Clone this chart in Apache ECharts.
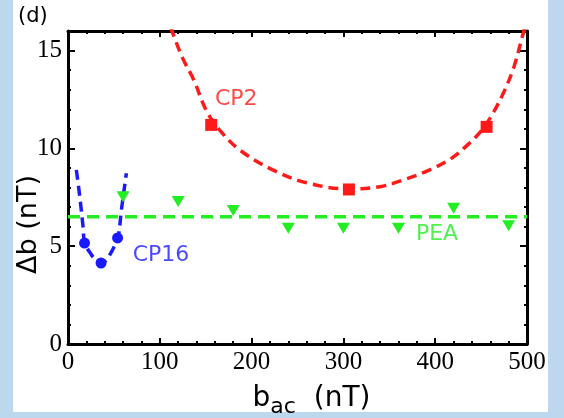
<!DOCTYPE html>
<html>
<head>
<meta charset="utf-8">
<script src="https://cdn.jsdelivr.net/npm/echarts@6/dist/echarts.min.js"></script>
<style>
  html, body { margin: 0; padding: 0; background: #bdd7ee; }
  #panel { position: absolute; left: 13px; top: 0; width: 535px; height: 412px; background: #ffffff; }
  #chart { position: absolute; left: 0; top: 0; width: 564px; height: 418px; }
</style>
</head>
<body>
<div id="panel"></div>
<div id="chart"></div>
<script>
// Measured points
const cp2X = [156, 306, 456];
const cp2Y = [11.2, 7.9, 11.1];
const cp16X = [18, 36, 54];
const cp16Y = [5.16, 4.14, 5.42];
const peaX = [60, 120, 180, 240, 300, 360, 420, 480];
const peaY = [7.53, 7.28, 6.82, 5.92, 5.92, 5.92, 6.94, 6.04];

// Fitted curves (dashed)
const cp2FitX = [112, 114, 125, 137, 151, 165, 187, 223, 260, 306, 340, 366, 394, 418, 438, 452, 463, 475, 486, 496, 499];
const cp2FitY = [16.2, 15.9, 14.6, 13.5, 11.9, 10.95, 9.92, 8.9, 8.24, 7.92, 8.04, 8.4, 8.9, 9.5, 10.3, 11.0, 11.8, 12.9, 14.2, 15.9, 16.3];
const cp16FitX = [9.1, 12.8, 16.4, 18.2, 25.5, 30, 36.4, 42, 45.5, 50, 54.5, 58.2, 63.6];
const cp16FitY = [8.9, 7.54, 6.0, 5.16, 4.56, 4.3, 4.14, 4.3, 4.56, 4.95, 5.42, 6.86, 8.73];
const peaLevelX = [0, 500];
const peaLevelY = [6.5, 6.5];

// Axis ranges and ticks
const xMin = 0, xMax = 500, xMajor = 100, xMinorSplit = 5;
const yMin = 0, yMax = 16, yMajor = 5, yMinor = 1;

// Curve labels: [text, x, y, colour]
const curveLabels = [
  ['CP2', 160, 12.5, '#ff1a1a'],
  ['CP16', 70.5, 4.56, '#1a1aff'],
  ['PEA', 379, 5.6, '#22ee22']
];

const zip = (xs, ys) => xs.map((x, i) => [x, ys[i]]);

const RED = '#ff1a1a', BLUE = '#1a1aff', GREEN = '#22ee22';
const serif = '"Liberation Serif", "Times New Roman", serif';
const sans = '"DejaVu Sans", Verdana, sans-serif';

function xAxisDef(pos, showLabels) {
  return {
    type: 'value', position: pos, min: xMin, max: xMax, interval: xMajor,
    axisLine: { show: true, onZero: false, lineStyle: { color: '#000', width: 3 } },
    axisTick: { show: true, inside: true, length: 6, lineStyle: { color: '#000', width: 2 } },
    minorTick: { show: true, splitNumber: xMinorSplit, length: 3, lineStyle: { color: '#000', width: 2 } },
    axisLabel: { show: showLabels, fontFamily: serif, fontSize: 25, color: '#000', margin: 6 },
    splitLine: { show: false },
    name: showLabels ? '{b|b}{s|ac}{b|  (nT)}' : '',
    nameLocation: 'middle', nameGap: 38,
    nameTextStyle: {
      padding: [0, 0, 0, 28],
      rich: {
        b: { fontFamily: sans, fontSize: 28, color: '#000', lineHeight: 30 },
        s: { fontFamily: sans, fontSize: 22, color: '#000', lineHeight: 22, padding: [16, 0, 0, 0] }
      }
    }
  };
}

function yAxisDef(pos, interval, tickLen, showLine, showLabels) {
  return {
    type: 'value', position: pos, min: yMin, max: yMax, interval: interval,
    axisLine: { show: showLine, onZero: false, lineStyle: { color: '#000', width: 3 } },
    axisTick: { show: true, inside: true, length: tickLen, lineStyle: { color: '#000', width: 2 } },
    axisLabel: {
      show: showLabels, fontFamily: serif, fontSize: 25, color: '#000', margin: 6,
      formatter: v => (v % yMajor === 0 ? String(v) : '')
    },
    splitLine: { show: false },
    name: showLabels ? 'Δb (nT)' : '',
    nameLocation: 'middle', nameGap: 26, nameRotate: 90, nameMoveOverlap: false,
    nameTextStyle: { fontFamily: sans, fontSize: 27, color: '#000', padding: [0, 74, 0, 0] }
  };
}

const chart = echarts.init(document.getElementById('chart'), null, { renderer: 'canvas' });

chart.setOption({
  animation: false,
  backgroundColor: 'transparent',
  title: {
    text: '(d)', left: 13, top: 1,
    textStyle: { fontFamily: sans, fontSize: 21, fontWeight: 'normal', color: '#000' }
  },
  grid: { left: 68, right: 37, top: 31, bottom: 74, containLabel: false, outerBoundsMode: 'none' },
  xAxis: [xAxisDef('bottom', true), xAxisDef('top', false)],
  yAxis: [
    yAxisDef('left', yMinor, 3, true, true),
    yAxisDef('left', yMajor, 7, false, false),
    yAxisDef('right', yMinor, 3, true, false),
    yAxisDef('right', yMajor, 7, false, false)
  ],
  series: [
    {
      name: 'CP2 fit', type: 'line', data: zip(cp2FitX, cp2FitY), smooth: 0.35,
      showSymbol: false, clip: true,
      lineStyle: { color: RED, width: 3.5, type: [10, 6] }, z: 3
    },
    {
      name: 'CP2', type: 'scatter', data: zip(cp2X, cp2Y), symbol: 'rect', symbolSize: 12,
      itemStyle: { color: RED, opacity: 1 }, z: 4
    },
    {
      name: 'CP16 fit', type: 'line', data: zip(cp16FitX, cp16FitY), smooth: 0.35,
      showSymbol: false, clip: true,
      lineStyle: { color: BLUE, width: 3.5, type: [10, 6] }, z: 3
    },
    {
      name: 'CP16', type: 'scatter', data: zip(cp16X, cp16Y), symbol: 'circle', symbolSize: 11,
      itemStyle: { color: BLUE, opacity: 1 }, z: 4
    },
    {
      name: 'PEA level', type: 'line', data: zip(peaLevelX, peaLevelY),
      showSymbol: false, clip: true,
      lineStyle: { color: GREEN, width: 3.5, type: [12, 7] }, z: 2
    },
    {
      name: 'PEA', type: 'scatter', data: zip(peaX, peaY), symbol: 'triangle', symbolRotate: 180,
      symbolSize: [13, 11], itemStyle: { color: GREEN, opacity: 1 }, z: 4
    },
    {
      name: 'labels', type: 'scatter', symbolSize: 0, silent: true, z: 5,
      data: curveLabels.map(([t, x, y, c]) => ({
        value: [x, y], name: t,
        label: { show: true, position: 'right', distance: 0, formatter: t,
                 fontFamily: sans, fontSize: 22, color: c }
      }))
    }
  ]
});
</script>
</body>
</html>
